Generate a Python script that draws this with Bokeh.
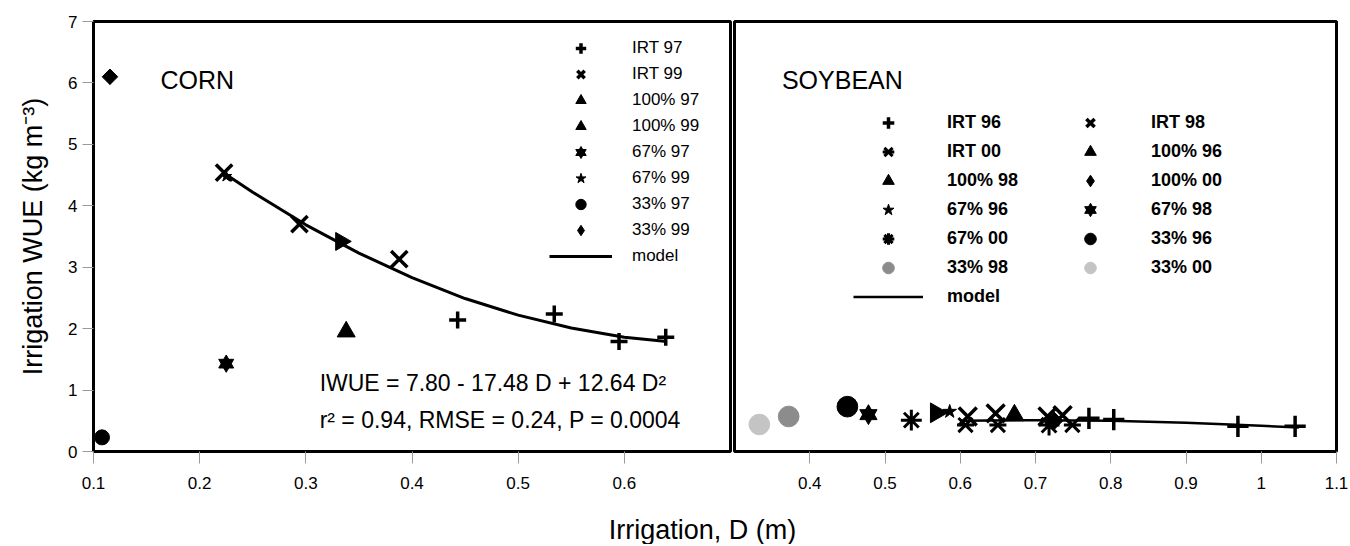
import math
from bokeh.plotting import figure
from bokeh.models import (Legend, LegendItem, Label, FixedTicker, Range1d,
                          ColumnDataSource)
from bokeh.layouts import column, row
from bokeh.embed import file_html
from bokeh.resources import INLINE

# ---------------- data : CORN ----------------
corn_irt97_x = [0.443, 0.534, 0.595, 0.639]
corn_irt97_y = [2.14, 2.24, 1.79, 1.86]
corn_irt99_x = [0.223, 0.294, 0.388]
corn_irt99_y = [4.54, 3.70, 3.13]
corn_100_97_x = [0.338]
corn_100_97_y = [1.95]
corn_100_99_x = [0.333]
corn_100_99_y = [3.42]
corn_67_97_x = [0.225]
corn_67_97_y = [1.43]
corn_67_99_x = [0.225]
corn_67_99_y = [4.48]
corn_33_97_x = [0.108]
corn_33_97_y = [0.23]
corn_33_99_x = [0.1155]
corn_33_99_y = [6.10]
corn_model_x = [0.222, 0.25, 0.30, 0.35, 0.40, 0.45, 0.50, 0.55, 0.60, 0.64]
corn_model_y = [4.54, 4.22, 3.69, 3.23, 2.83, 2.49, 2.22, 2.01, 1.86, 1.79]

# ---------------- data : SOYBEAN ----------------
soy_irt96_x = [0.771, 0.804, 0.969, 1.045]
soy_irt96_y = [0.54, 0.52, 0.41, 0.41]
soy_irt98_x = [0.610, 0.647, 0.716, 0.736]
soy_irt98_y = [0.57, 0.62, 0.57, 0.59]
soy_irt00_x = [0.607, 0.650, 0.749]
soy_irt00_y = [0.43, 0.43, 0.43]
soy_100_96_x = [0.672]
soy_100_96_y = [0.59]
soy_100_98_x = [0.568]
soy_100_98_y = [0.63]
soy_100_00_x = [0.725]
soy_100_00_y = [0.50]
soy_67_96_x = [0.586]
soy_67_96_y = [0.65]
soy_67_98_x = [0.478]
soy_67_98_y = [0.60]
soy_67_00_x = [0.535, 0.718]
soy_67_00_y = [0.51, 0.43]
soy_33_96_x = [0.450]
soy_33_96_y = [0.73]
soy_33_98_x = [0.372]
soy_33_98_y = [0.57]
soy_33_00_x = [0.333]
soy_33_00_y = [0.44]
soy_model_x = [0.60, 0.70, 0.80, 0.90, 1.00, 1.05]
soy_model_y = [0.50, 0.51, 0.50, 0.47, 0.42, 0.39]

# tick labels
corn_xticks = [0.1, 0.2, 0.3, 0.4, 0.5, 0.6]
soy_xticks = [0.4, 0.5, 0.6, 0.7, 0.8, 0.9, 1.0, 1.1]
yticks = [0, 1, 2, 3, 4, 5, 6, 7]

FONT = "Liberation Sans"
BLACK = "black"
GRAY = "#8c8c8c"
LIGHT = "#c4c4c4"


def draw(p, kind, xs, ys, s=1.0, color=BLACK):
    """returns the renderers used for the legend entry"""
    src = ColumnDataSource(dict(x=xs, y=ys))
    rs = []
    leg = None
    if kind == "plus":
        rs.append(p.scatter("x", "y", source=src, marker="cross", size=17 * s,
                            line_color=color, line_width=3.5))
    elif kind == "x":
        rs.append(p.scatter("x", "y", source=src, marker="x", size=23 * s,
                            line_color=color, line_width=3.5))
    elif kind == "tri":
        rs.append(p.scatter("x", "y", source=src, marker="triangle", size=18 * s,
                            fill_color=color, line_color=color))
    elif kind == "rtri":
        rs.append(p.scatter("x", "y", source=src, marker="triangle", size=18 * s,
                            angle=-math.pi / 2, fill_color=color, line_color=color))
    elif kind == "david":
        for m in ("triangle", "inverted_triangle"):
            rs.append(p.scatter("x", "y", source=src, marker=m, size=15 * s,
                                fill_color=color, line_color=color))
    elif kind == "star":
        rs.append(p.scatter("x", "y", source=src, marker="star", size=13 * s,
                            fill_color=color, line_color=color))
    elif kind == "circle":
        rs.append(p.scatter("x", "y", source=src, marker="circle", size=15 * s,
                            fill_color=color, line_color=color))
    elif kind == "diamond":
        rs.append(p.scatter("x", "y", source=src, marker="square", size=11 * s,
                            angle=math.pi / 4, fill_color=color, line_color=color))
        d = p.scatter("x", "y", source=src, marker="diamond", size=15 * s,
                      fill_color=color, line_color=color)
        rs.append(d)
        leg = [d]
    elif kind == "asterisk":
        rs.append(p.scatter("x", "y", source=src, marker="x", size=20 * s,
                            line_color=color, line_width=3))
        rs.append(p.scatter("x", "y", source=src, marker="dash", size=17 * s,
                            line_color=color, line_width=3))
    elif kind == "burst":
        rs.append(p.scatter("x", "y", source=src, marker="asterisk", size=19 * s,
                            line_color=color, line_width=3))
    return rs if leg is None else leg


def style_axis(ax, ticks, tick_out):
    ax.ticker = FixedTicker(ticks=ticks)
    ax.minor_tick_line_color = None
    ax.major_tick_in = 0
    ax.major_tick_out = tick_out
    ax.major_tick_line_color = "#9a9a9a"
    ax.major_tick_line_width = 1
    ax.axis_line_color = None
    ax.major_label_text_font = FONT
    ax.major_label_text_font_size = "17px"
    ax.major_label_text_color = BLACK


# ---------------- left panel ----------------
pL = figure(frame_width=637, frame_height=430, x_range=Range1d(0.1, 0.7),
            y_range=Range1d(0, 7), output_backend="svg", toolbar_location=None,
            min_border_left=93, min_border_right=2, min_border_top=21,
            min_border_bottom=45)
pL.grid.visible = False
pL.outline_line_color = BLACK
pL.outline_line_width = 3
style_axis(pL.xaxis[0], corn_xticks, 12)
style_axis(pL.yaxis[0], yticks, 11)
pL.xaxis.major_label_standoff = 13
pL.yaxis.major_label_standoff = 5
pL.yaxis.axis_label = "Irrigation WUE (kg m\u207b\u00b3)"
pL.yaxis.axis_label_text_font = FONT
pL.yaxis.axis_label_text_font_size = "27px"
pL.yaxis.axis_label_text_font_style = "normal"
pL.yaxis.axis_label_text_color = BLACK
pL.yaxis.axis_label_standoff = 17

rm = pL.line(corn_model_x, corn_model_y, line_color=BLACK, line_width=3)
r1 = draw(pL, "plus", corn_irt97_x, corn_irt97_y)
r2 = draw(pL, "x", corn_irt99_x, corn_irt99_y)
r3 = draw(pL, "tri", corn_100_97_x, corn_100_97_y)
r4 = draw(pL, "rtri", corn_100_99_x, corn_100_99_y)
r5 = draw(pL, "david", corn_67_97_x, corn_67_97_y)
r6 = draw(pL, "star", corn_67_99_x, corn_67_99_y, 0.9)
r7 = draw(pL, "circle", corn_33_97_x, corn_33_97_y)
r8 = draw(pL, "diamond", corn_33_99_x, corn_33_99_y)

legL = Legend(items=[
    LegendItem(label="IRT 97", renderers=r1),
    LegendItem(label="IRT 99", renderers=r2),
    LegendItem(label="100% 97", renderers=r3),
    LegendItem(label="100% 99", renderers=r4),
    LegendItem(label="67% 97", renderers=r5),
    LegendItem(label="67% 99", renderers=r6),
    LegendItem(label="33% 97", renderers=r7),
    LegendItem(label="33% 99", renderers=r8),
    LegendItem(label="model", renderers=[rm]),
], location=(456, 182), glyph_width=63, glyph_height=26, label_height=26,
    spacing=0, padding=0, margin=0, label_standoff=20,
    border_line_color=None, background_fill_alpha=0,
    label_text_font=FONT, label_text_font_size="17px", label_text_color=BLACK)
pL.add_layout(legL)

pL.add_layout(Label(x=0.163, y=6.04, text="CORN", text_font=FONT, text_color=BLACK,
                    text_font_size="25px", text_baseline="alphabetic"))
pL.add_layout(Label(x=0.313, y=1.11, text="IWUE = 7.80 - 17.48 D + 12.64 D\u00b2",
                    text_font=FONT, text_font_size="23px", text_color=BLACK,
                    text_baseline="alphabetic"))
pL.add_layout(Label(x=0.313, y=0.51, text="r\u00b2 = 0.94, RMSE = 0.24, P = 0.0004",
                    text_font=FONT, text_font_size="23px", text_color=BLACK,
                    text_baseline="alphabetic"))

# ---------------- right panel ----------------
pR = figure(frame_width=602, frame_height=430, x_range=Range1d(0.3, 1.1),
            y_range=Range1d(0, 7), y_axis_location=None,
            output_backend="svg", toolbar_location=None,
            min_border_left=2, min_border_right=12, min_border_top=21,
            min_border_bottom=45)
pR.grid.visible = False
pR.outline_line_color = BLACK
pR.outline_line_width = 3
style_axis(pR.xaxis[0], soy_xticks, 12)
pR.xaxis.major_label_standoff = 13
pR.xaxis.major_label_overrides = {1.0: "1", 1.1: "1.1"}

sm = pR.line(soy_model_x, soy_model_y, line_color=BLACK, line_width=2.5)
s1 = draw(pR, "plus", soy_irt96_x, soy_irt96_y, 1.25)
s2 = draw(pR, "x", soy_irt98_x, soy_irt98_y, 1.1)
s3 = draw(pR, "asterisk", soy_irt00_x, soy_irt00_y, 1.0)
s4 = draw(pR, "tri", soy_100_96_x, soy_100_96_y, 1.05)
s5 = draw(pR, "rtri", soy_100_98_x, soy_100_98_y, 1.1)
s6 = draw(pR, "diamond", soy_100_00_x, soy_100_00_y, 1.1)
s7 = draw(pR, "star", soy_67_96_x, soy_67_96_y, 1.1)
s8 = draw(pR, "david", soy_67_98_x, soy_67_98_y, 1.15)
s9 = draw(pR, "burst", soy_67_00_x, soy_67_00_y, 1.1)
s12 = draw(pR, "circle", soy_33_00_x, soy_33_00_y, 1.38, LIGHT)
s11 = draw(pR, "circle", soy_33_98_x, soy_33_98_y, 1.38, GRAY)
s10 = draw(pR, "circle", soy_33_96_x, soy_33_96_y, 1.38)

leg_kw = dict(glyph_height=29, label_height=29, spacing=0, padding=0, margin=0,
              border_line_color=None, background_fill_alpha=0,
              label_text_font=FONT, label_text_font_size="18px",
              label_text_font_style="bold", label_text_color=BLACK)
legR1 = Legend(items=[
    LegendItem(label="IRT 96", renderers=s1),
    LegendItem(label="IRT 00", renderers=s3),
    LegendItem(label="100% 98", renderers=s5),
    LegendItem(label="67% 96", renderers=s7),
    LegendItem(label="67% 00", renderers=s9),
    LegendItem(label="33% 98", renderers=s11),
    LegendItem(label="model", renderers=[sm]),
], location=(119, 140), glyph_width=70, label_standoff=24, **leg_kw)
legR2 = Legend(items=[
    LegendItem(label="IRT 98", renderers=s2),
    LegendItem(label="100% 96", renderers=s4),
    LegendItem(label="100% 00", renderers=s6),
    LegendItem(label="67% 98", renderers=s8),
    LegendItem(label="33% 96", renderers=s10),
    LegendItem(label="33% 00", renderers=s12),
], location=(321, 169), glyph_width=70, label_standoff=26, **leg_kw)
pR.add_layout(legR1)
pR.add_layout(legR2)

pR.add_layout(Label(x=0.363, y=6.04, text="SOYBEAN", text_font=FONT, text_color=BLACK,
                    text_font_size="25px", text_baseline="alphabetic"))

# ---------------- shared x label ----------------
pX = figure(width=1348, height=48, x_range=Range1d(0, 1), y_range=Range1d(0, 1),
            x_axis_location=None, y_axis_location=None, output_backend="svg",
            toolbar_location=None, min_border=0, outline_line_color=None, title=None)
pX.grid.visible = False
pX.add_layout(Label(x=702, y=15, x_units="screen", y_units="screen",
                    text="Irrigation, D (m)", text_font=FONT, text_font_size="27px",
                    text_color=BLACK, text_align="center", text_baseline="alphabetic"))

layout = column(row(pL, pR, spacing=0), pX, spacing=0)
open("out.html", "w").write(file_html(layout, INLINE))
